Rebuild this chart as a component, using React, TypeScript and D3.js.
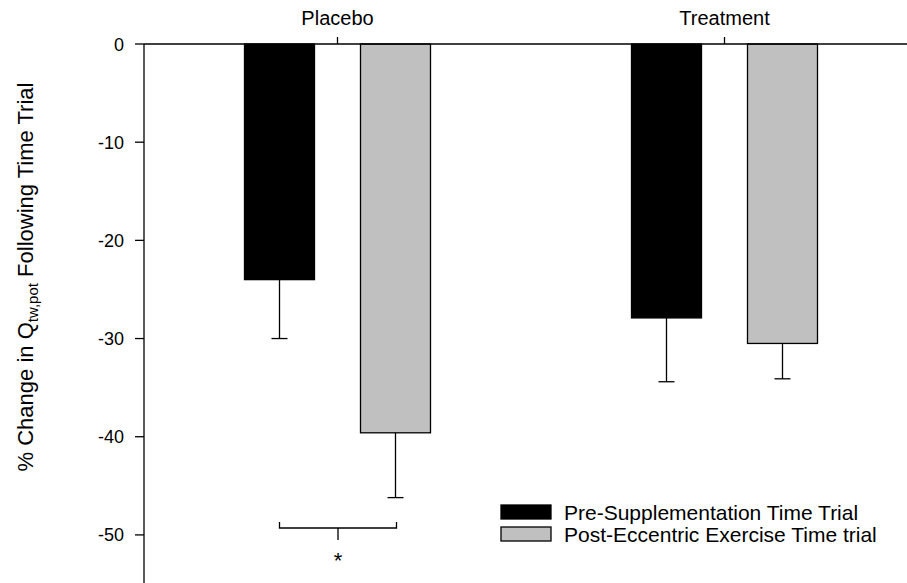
import React from "react";
import * as d3 from "d3";

const groups = ["Placebo", "Treatment"];
const seriesNames = ["Pre-Supplementation Time Trial", "Post-Eccentric Exercise Time trial"];
const seriesColors = ["#000000", "#c0c0c0"];
const preValues = [-24.0, -27.9];
const postValues = [-39.6, -30.5];
const preErrors = [6.0, 6.5];
const postErrors = [6.6, 3.6];
const yTicks = [0, -10, -20, -30, -40, -50];

const W = 907;
const H = 583;
const FONT = "Arial, 'Liberation Sans', Helvetica, sans-serif";

export default function App() {
  const axisX = 144;
  const x = d3.scaleBand<string>().domain(groups).range([axisX, 918]).paddingInner(0).paddingOuter(0);
  const y = d3.scaleLinear().domain([-55, 0]).range([584, 44]);
  const barW = 70;
  const offset = 58; // distance from group center to bar center

  const series = [
    { values: preValues, errors: preErrors, color: seriesColors[0], dx: -offset },
    { values: postValues, errors: postErrors, color: seriesColors[1], dx: offset },
  ];

  const center = (g: string) => (x(g) as number) + x.bandwidth() / 2;

  // significance bracket under the placebo pair
  const bx1 = center(groups[0]) - offset;
  const bx2 = center(groups[0]) + offset + 1;
  const bY = 528;

  return (
    <svg width={W} height={H} style={{ position: "absolute", left: 0, top: 0, background: "#fff" }} fontFamily={FONT}>
      {/* bars */}
      {series.map((s, si) =>
        groups.map((g, gi) => {
          const cx = center(g) + s.dx;
          const v = s.values[gi];
          const yb = y(v);
          const ye = y(v - s.errors[gi]);
          return (
            <g key={`${si}-${gi}`}>
              <line x1={cx} x2={cx} y1={yb} y2={ye} stroke="#000" strokeWidth={1.3} />
              <line x1={cx - 8} x2={cx + 8} y1={ye} y2={ye} stroke="#000" strokeWidth={1.3} />
              <rect
                x={cx - barW / 2}
                y={y(0)}
                width={barW}
                height={yb - y(0)}
                fill={s.color}
                stroke="#000"
                strokeWidth={1.3}
              />
            </g>
          );
        })
      )}

      {/* top axis with category ticks */}
      <line x1={axisX} x2={W} y1={y(0)} y2={y(0)} stroke="#000" strokeWidth={1.3} />
      {groups.map((g) => (
        <g key={g}>
          <line x1={center(g)} x2={center(g)} y1={y(0)} y2={y(0) - 7} stroke="#000" strokeWidth={1.3} />
          <text x={center(g)} y={25} textAnchor="middle" fontSize={20} fill="#000">
            {g}
          </text>
        </g>
      ))}

      {/* y axis */}
      <line x1={axisX} x2={axisX} y1={y(0)} y2={H} stroke="#000" strokeWidth={1.3} />
      {yTicks.map((t) => (
        <g key={t}>
          <line x1={axisX - 9} x2={axisX} y1={y(t)} y2={y(t)} stroke="#000" strokeWidth={1.3} />
          <text x={124} y={y(t) + 6.5} textAnchor="end" fontSize={18} fill="#000">
            {t}
          </text>
        </g>
      ))}

      {/* y axis title */}
      <text
        transform={`translate(33, 277) rotate(-90)`}
        textAnchor="middle"
        fontSize={22}
        fill="#000"
      >
        <tspan>% Change in Q</tspan>
        <tspan fontSize={15} dy={5}>tw,pot</tspan>
        <tspan dy={-5}> Following Time Trial</tspan>
      </text>

      {/* significance bracket */}
      <path
        d={`M${bx1},${bY - 6} L${bx1},${bY} L${bx2},${bY} L${bx2},${bY - 6} M${(bx1 + bx2) / 2},${bY} L${(bx1 + bx2) / 2},${bY + 12}`}
        fill="none"
        stroke="#000"
        strokeWidth={1.3}
      />
      <text x={(bx1 + bx2) / 2} y={568} textAnchor="middle" fontSize={22} fill="#000">
        *
      </text>

      {/* legend */}
      {seriesNames.map((n, i) => (
        <g key={n}>
          <rect x={501} y={505 + i * 22} width={50} height={14} fill={seriesColors[i]} stroke="#000" strokeWidth={1.3} />
          <text x={564} y={519.5 + i * 22} fontSize={21} fill="#000">
            {n}
          </text>
        </g>
      ))}
    </svg>
  );
}
